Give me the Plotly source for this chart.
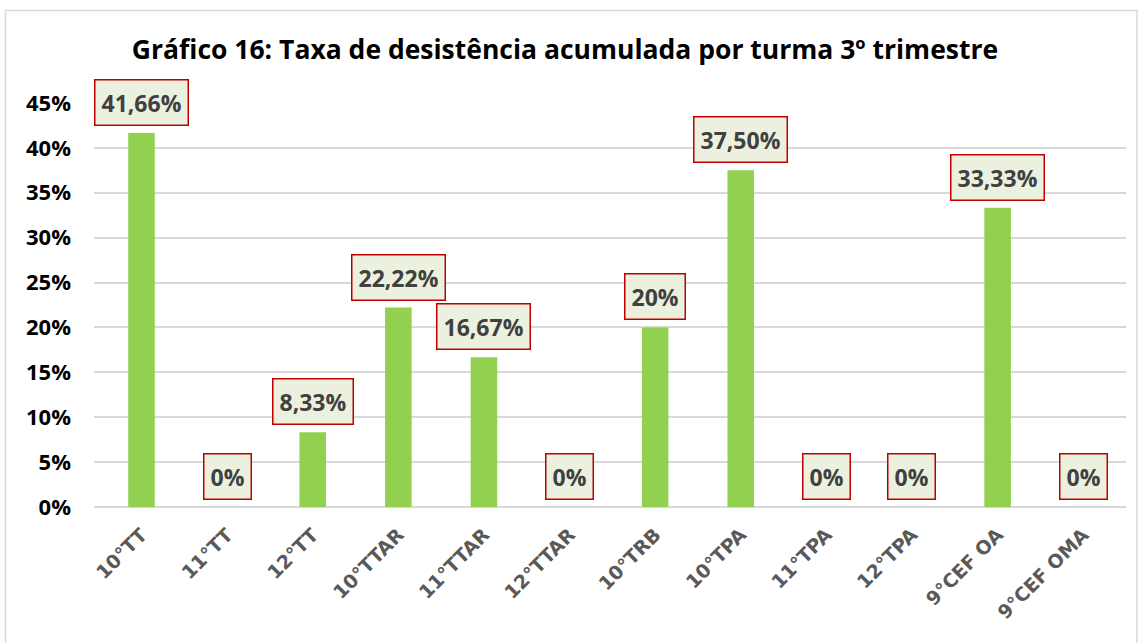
import plotly.graph_objects as go

categories = ["10°TT", "11°TT", "12°TT", "10°TTAR", "11°TTAR", "12°TTAR",
              "10°TRB", "10°TPA", "11°TPA", "12°TPA", "9°CEF OA", "9°CEF OMA"]
values = [0.4166, 0.0, 0.0833, 0.2222, 0.1667, 0.0, 0.20, 0.375, 0.0, 0.0, 0.3333, 0.0]
labels = ["41,66%", "0%", "8,33%", "22,22%", "16,67%", "0%", "20%", "37,50%", "0%", "0%", "33,33%", "0%"]
tick_vals = [0, 0.05, 0.10, 0.15, 0.20, 0.25, 0.30, 0.35, 0.40, 0.45]
tick_text = ["0%", "5%", "10%", "15%", "20%", "25%", "30%", "35%", "40%", "45%"]
title = "Gráfico 16: Taxa de desistência acumulada por turma 3º trimestre"

W, H = 1143, 643
L, R, T, B = 94, 17, 103, 136
pw, ph = W - L - R, H - T - B

fig = go.Figure(go.Bar(x=categories, y=values, marker=dict(color="#92D050", line=dict(width=0)),
                       width=0.31, hoverinfo="skip"))

for c, v, t in zip(categories, values, labels):
    fig.add_annotation(x=c, y=v, text="<b>%s</b>" % t, showarrow=False, yanchor="bottom", yshift=7,
                       font=dict(family="Open Sans", size=23, color="#404040"),
                       bgcolor="#EBF1DE", bordercolor="#C00000", borderwidth=1.5, borderpad=6)

# outer chart border
def px_x(p):
    return (p - L) / pw

def px_y(p):
    return (H - B - p) / ph

fig.add_shape(type="rect", xref="paper", yref="paper",
              x0=px_x(5.5), x1=px_x(1137), y0=px_y(648), y1=px_y(10.5),
              line=dict(color="#D9D9D9", width=1.5), fillcolor="rgba(0,0,0,0)", layer="below")

fig.update_layout(
    width=W, height=H,
    margin=dict(l=L, r=R, t=T, b=B, autoexpand=False),
    paper_bgcolor="white", plot_bgcolor="white",
    showlegend=False,
    title=dict(text="<b>%s</b>" % title, x=565 / W, xref="container", xanchor="center",
               y=1 - 50 / H, yref="container", yanchor="middle",
               font=dict(family="Open Sans", size=26.5, color="black")),
    xaxis=dict(tickangle=-45, tickfont=dict(family="DejaVu Sans", size=19, color="#595959", weight="bold"),
               showgrid=False, showline=False, ticks="", ticklabelstandoff=12, fixedrange=True),
    yaxis=dict(range=[0, 0.45], tickvals=tick_vals, ticktext=tick_text,
               tickfont=dict(family="Open Sans", size=22, color="black", weight="bold"),
               showgrid=True, gridcolor="#D9D9D9", gridwidth=1.5,
               zeroline=True, zerolinecolor="#D9D9D9", zerolinewidth=2,
               showline=False, ticks="", ticklabelstandoff=22, fixedrange=True),
)

fig.write_html("out.html", config={"displayModeBar": False},
               post_script="document.body.style.margin='0px';document.body.style.padding='0px';")
